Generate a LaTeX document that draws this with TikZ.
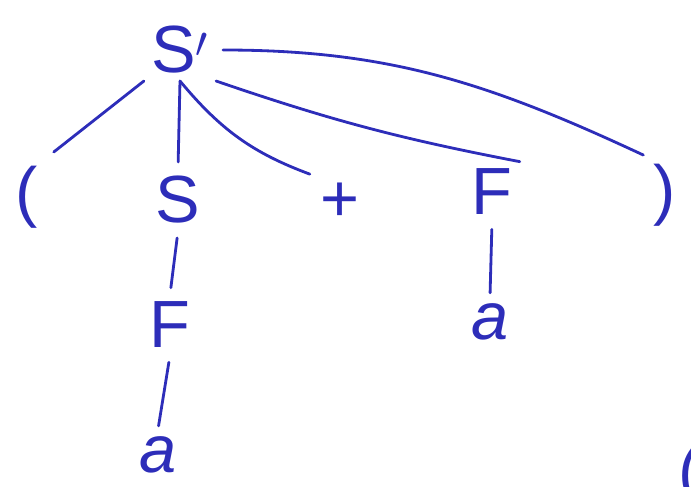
\documentclass[tikz,border=0pt]{standalone}
\usepackage{fontspec}
\setmainfont{Liberation Sans}
\usetikzlibrary{positioning, calc}
\definecolor{inchiostro}{RGB}{45,45,185}
\tikzset{
  simbolo/.style={text=inchiostro, font=\fontsize{38}{38}\selectfont, inner sep=4pt},
  ramo/.style={draw=inchiostro, line width=1.6pt, line cap=round}
}

\begin{document}
\begin{tikzpicture}[x=0.02cm, y=-0.02cm]
        \useasboundingbox (0,0) rectangle (691,487);
        %radice
        \node[simbolo] (Sp) at (180,50) {S$'$};
        %figli della radice
        \node[simbolo] (lpar) at (27,197) {(};
        \node[simbolo] (S) at (178,200) {S};
        \node[simbolo] (piu) at (340,202) {+};
        \node[simbolo] (F) at (492,192) {F};
        \node[simbolo] (rpar) at (665,195) {)};
        %sotto S
        \node[simbolo] (Fs) at (170,325) {F};
        \node[simbolo] (as) at (158,455) {\itshape a};
        %sotto F
        \node[simbolo] (af) at (490,322) {\itshape a};
        %parentesi tagliata dal bordo
        \node[simbolo] (taglio) at (690,476) {(};
        %rami della radice
        \draw[ramo, shorten >=6pt] (Sp.south west) -- (lpar.north east);
        \draw[ramo, shorten >=4pt] (Sp.south) -- (S.north);
        \draw[ramo, shorten >=2pt] (Sp.south) to[bend right=15] (piu.north west);
        \draw[ramo] (Sp.south east) to[bend right=4] (F.north east);
        \draw[ramo, shorten <=4pt, shorten >=2pt] (Sp.east) to[out=0, in=155] (rpar.north west);
        %rami interni
        \draw[ramo, shorten <=4pt, shorten >=4pt] (S.south) -- (Fs.north);
        \draw[ramo, shorten <=4pt, shorten >=2pt] (Fs.south) -- (as.north);
        \draw[ramo, shorten <=4pt, shorten >=2pt] (F.south) -- (af.north);
    \end{tikzpicture}
\end{document}
